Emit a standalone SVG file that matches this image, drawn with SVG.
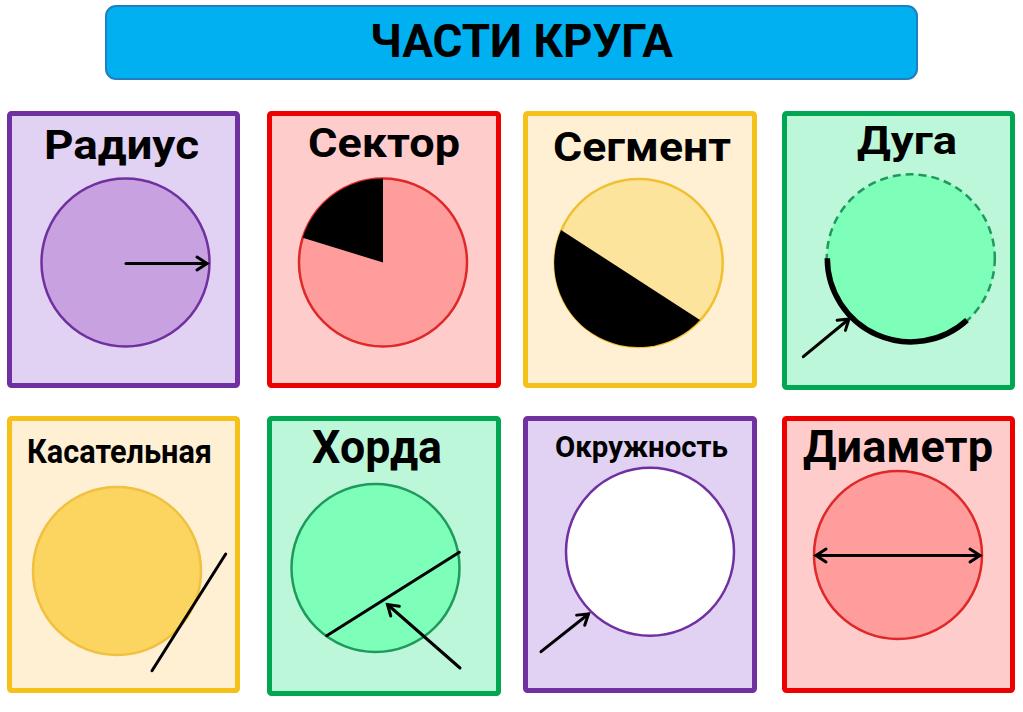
<svg xmlns="http://www.w3.org/2000/svg" width="1023" height="712" viewBox="0 0 1023 712">
  <style>
    .lbl { font-family: Roboto, "Liberation Sans", "DejaVu Sans", sans-serif; font-weight: 700; fill: #000; text-anchor: middle; }
    .panel { stroke-width: 5; }
    .purple { fill: #e1d1f2; stroke: #7030a0; }
    .red { fill: #ffcccc; stroke: #ee0000; }
    .yellow { fill: #fff0d4; stroke: #f5c018; }
    .green { fill: #bcf7da; stroke: #00a651; }
    .ln { stroke: #000; stroke-width: 3; fill: none; stroke-linecap: round; }
  </style>
  <defs>
    <marker id="arr" markerUnits="userSpaceOnUse" markerWidth="20" markerHeight="20" refX="0" refY="0" viewBox="-14 -10 18 20" orient="auto-start-reverse" overflow="visible">
      <path d="M-10,-6.5 L0,0 L-10,6.5" fill="none" stroke="#000" stroke-width="3" stroke-linecap="round" stroke-linejoin="miter"/>
    </marker>
  </defs>
  <rect width="1023" height="712" fill="#ffffff"/>

  <g id="title">
    <rect x="106" y="6" width="811" height="73" rx="10" fill="#00b0f0" stroke="#1f7fc0" stroke-width="2"/>
    <text class="lbl" x="521.5" y="57" font-size="46" textLength="303" lengthAdjust="spacingAndGlyphs">ЧАСТИ КРУГА</text>
  </g>

  <g id="radius">
    <rect class="panel purple" x="9.5" y="113.5" width="228" height="272" rx="2"/>
    <text class="lbl" x="121.5" y="159" font-size="41" textLength="155" lengthAdjust="spacingAndGlyphs">Радиус</text>
    <circle cx="125.5" cy="262.5" r="84" fill="#c8a1e0" stroke="#7030a0" stroke-width="2.5"/>
  </g>

  <g id="sector">
    <rect class="panel red" x="269.5" y="113.5" width="229" height="272" rx="2"/>
    <text class="lbl" x="384" y="157" font-size="41" textLength="152" lengthAdjust="spacingAndGlyphs">Сектор</text>
    <circle cx="383" cy="262.5" r="84" fill="#ff9d9d" stroke="#e02828" stroke-width="2.5"/>
    <path d="M383,262.5 L383,178.5 A84,84 0 0 0 302.7,237.8 Z" fill="#000"/>
  </g>

  <g id="segment">
    <rect class="panel yellow" x="525.5" y="113.5" width="229" height="272" rx="2"/>
    <text class="lbl" x="642" y="161" font-size="40" textLength="178" lengthAdjust="spacingAndGlyphs">Сегмент</text>
    <circle cx="638.7" cy="263" r="84" fill="#fde49c" stroke="#f0c030" stroke-width="2.5"/>
    <path d="M561,230 A84,84 0 0 0 700,320 Z" fill="#000"/>
  </g>

  <g id="arc">
    <rect class="panel green" x="784.5" y="113.5" width="228" height="274" rx="2"/>
    <text class="lbl" x="907" y="154" font-size="39" textLength="100" lengthAdjust="spacingAndGlyphs">Дуга</text>
    <circle cx="910.8" cy="258.3" r="84" fill="#7dffb9" stroke="#1e9a5a" stroke-width="2.5" stroke-dasharray="8 5"/>
    <path d="M827.3,258.3 A83.5,83.5 0 0 0 967,320.1" fill="none" stroke="#000" stroke-width="5.5"/>
  </g>

  <g id="tangent">
    <rect class="panel yellow" x="9.5" y="418.5" width="228" height="272" rx="2"/>
    <text class="lbl" x="119.5" y="463" font-size="34" textLength="185" lengthAdjust="spacingAndGlyphs">Касательная</text>
    <circle cx="117" cy="571" r="84" fill="#fcd561" stroke="#f0c040" stroke-width="2.5"/>
  </g>

  <g id="chord">
    <rect class="panel green" x="269.5" y="418.5" width="229" height="275" rx="2"/>
    <text class="lbl" x="377" y="463" font-size="46" textLength="130" lengthAdjust="spacingAndGlyphs">Хорда</text>
    <circle cx="375.5" cy="568" r="84" fill="#7dffb9" stroke="#1e9a5a" stroke-width="2.5"/>
  </g>

  <g id="circumference">
    <rect class="panel purple" x="525.5" y="418.5" width="229" height="272" rx="2"/>
    <text class="lbl" x="641.5" y="457" font-size="30" textLength="173" lengthAdjust="spacingAndGlyphs">Окружность</text>
    <circle cx="650" cy="551.7" r="84" fill="#ffffff" stroke="#7030a0" stroke-width="2.5"/>
  </g>

  <g id="diameter">
    <rect class="panel red" x="784.5" y="418.5" width="228" height="272" rx="2"/>
    <text class="lbl" x="898" y="462" font-size="44" textLength="190" lengthAdjust="spacingAndGlyphs">Диаметр</text>
    <circle cx="898" cy="555" r="84" fill="#ff9d9d" stroke="#e02828" stroke-width="2.5"/>
  </g>

  <g id="connectors">
    <line class="ln" x1="126" y1="263.5" x2="207" y2="263.5" marker-end="url(#arr)"/>
    <line class="ln" x1="803.3" y1="356.7" x2="849" y2="319" marker-end="url(#arr)"/>
    <line class="ln" x1="152" y1="670.7" x2="225.7" y2="554"/>
    <line class="ln" x1="326.7" y1="635.7" x2="459.3" y2="552.3"/>
    <line class="ln" x1="460" y1="668" x2="387.5" y2="604.5" marker-end="url(#arr)"/>
    <line class="ln" x1="541" y1="651.7" x2="588.5" y2="614" marker-end="url(#arr)"/>
    <line class="ln" x1="816" y1="555.5" x2="980" y2="555.5" marker-start="url(#arr)" marker-end="url(#arr)"/>
  </g>
</svg>
